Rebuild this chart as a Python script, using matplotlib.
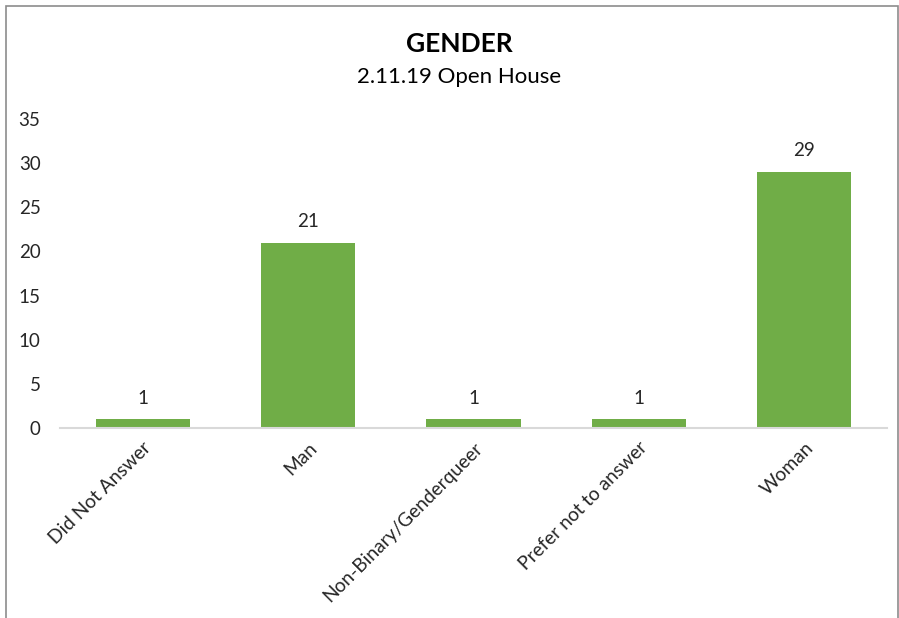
import matplotlib
matplotlib.use('Agg')
import matplotlib.pyplot as plt
from matplotlib.patches import Rectangle

categories = ['Did Not Answer', 'Man', 'Non-Binary/Genderqueer', 'Prefer not to answer', 'Woman']
counts = [1, 21, 1, 1, 29]
yticks = [0, 5, 10, 15, 20, 25, 30, 35]

plt.rcParams['font.family'] = ['Lato', 'DejaVu Sans']

fig = plt.figure(figsize=(8.99, 6.18), dpi=100)
ax = fig.add_axes([0.0667, 0.3074, 0.92, 0.5])

x = range(len(categories))
bars = ax.bar(x, counts, width=0.57, color='#70AD47')
ax.set_xlim(-0.5, len(categories) - 0.5)
ax.set_ylim(0, 35)
ax.set_yticks(yticks)

# value labels over each bar
for b, v in zip(bars, counts):
    ax.annotate(str(v), (b.get_x() + b.get_width() / 2, v), xytext=(0, 9),
                textcoords='offset points', ha='center', va='bottom',
                fontsize=13.5, color='#262626')

ax.set_xticks(list(x))
ax.set_xticklabels(categories, rotation=45, ha='right', rotation_mode='anchor',
                   fontsize=13.8, color='#262626')
ax.tick_params(axis='y', labelsize=13.5, labelcolor='#262626', length=0, pad=14)
ax.tick_params(axis='x', length=0, pad=8)

for side in ['top', 'right', 'left']:
    ax.spines[side].set_visible(False)
ax.spines['bottom'].set_color('#D9D9D9')
ax.spines['bottom'].set_linewidth(1.5)

fig.text(0.511, 0.928, 'GENDER', ha='center', va='center', fontsize=19,
         fontweight='bold', color='black')
fig.text(0.511, 0.875, '2.11.19 Open House', ha='center', va='center',
         fontsize=16, color='black')

# chart frame
fig.add_artist(Rectangle((6 / 899, -0.05), 892 / 899, 1 - 6 / 618 + 0.05,
                         transform=fig.transFigure, fill=False,
                         edgecolor='#8C8C8C', linewidth=1.2))

fig.savefig('out.png', dpi=100)
